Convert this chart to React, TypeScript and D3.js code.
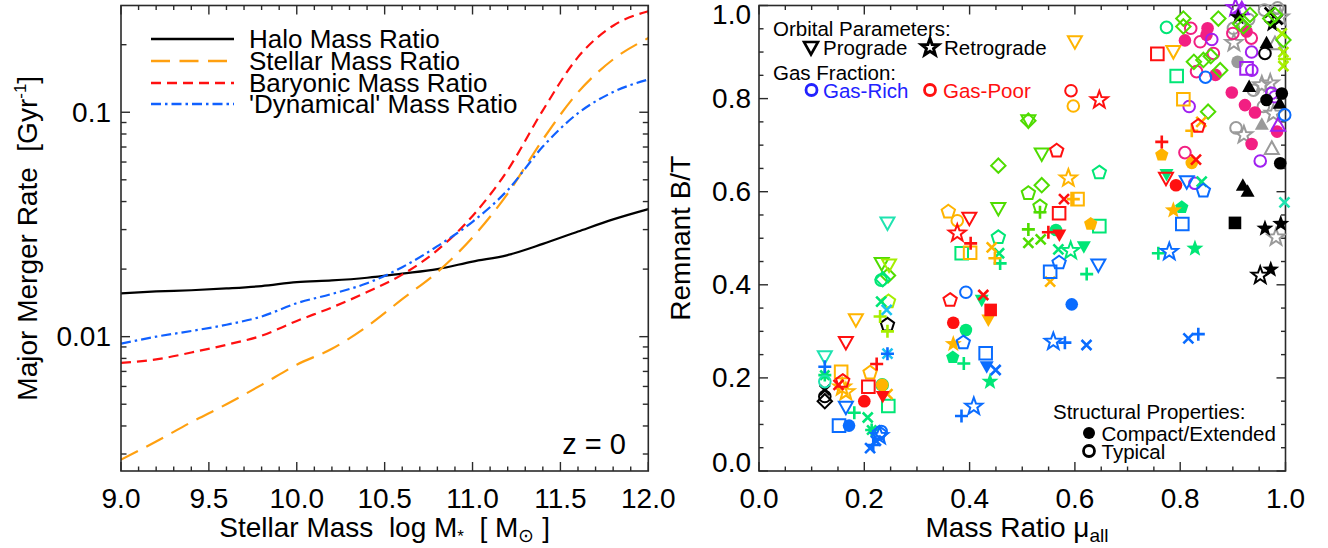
import React from 'react';
import * as d3 from 'd3';

// ---------------- Left panel data (major merger rate vs stellar mass) ----------------
const stellarMassGrid = [9.0, 9.2, 9.4, 9.6, 9.8, 10.0, 10.2, 10.4, 10.6, 10.8, 11.0, 11.2, 11.4, 11.6, 11.8, 12.0];
const haloRatioRate = [0.0156, 0.0159, 0.0161, 0.0164, 0.0168, 0.0175, 0.0178, 0.0183, 0.0191, 0.0200, 0.0216, 0.0231, 0.0259, 0.0294, 0.0333, 0.0370];
const stellarRatioRate = [0.00283, 0.00341, 0.00416, 0.0050, 0.0061, 0.0075, 0.00883, 0.0111, 0.0147, 0.0194, 0.0277, 0.0434, 0.0756, 0.1227, 0.172, 0.214];
const baryonicRatioRate = [0.00764, 0.00792, 0.0085, 0.0092, 0.0101, 0.01175, 0.0135, 0.0158, 0.0189, 0.0243, 0.0345, 0.0552, 0.102, 0.176, 0.243, 0.282];
const dynamicalRatioRate = [0.0093, 0.0100, 0.0106, 0.0113, 0.0123, 0.0141, 0.0155, 0.0173, 0.0204, 0.0253, 0.0325, 0.0450, 0.0703, 0.0990, 0.123, 0.140];
const curveNames = ['Halo Mass Ratio', 'Stellar Mass Ratio', 'Baryonic Mass Ratio', "'Dynamical' Mass Ratio"];
const leftXTicks = [9.0, 9.5, 10.0, 10.5, 11.0, 11.5, 12.0];
const leftYTickLabels = [0.01, 0.1];

// ---------------- Right panel data (remnant B/T vs mass ratio) ----------------
// [mass ratio mu_all, remnant B/T, marker]; lower-case = open, upper-case = filled
type Pt = [number, number, string];
const blackPts: Pt[] = [
  [0.244, 0.314, 'pe'], [0.125, 0.174, 'x'], [0.125, 0.160, 'ci'], [0.125, 0.150, 'di'],
  [0.904, 0.533, 'SQ'], [0.919, 0.614, 'TU'], [0.928, 0.601, 'TU'], [0.961, 0.521, 'ST'], [0.991, 0.531, 'ST'],
  [0.952, 0.420, 'st'], [0.972, 0.433, 'ST'], [0.990, 0.661, 'CI'], [0.931, 0.826, 'TU'], [0.964, 0.797, 'CI'],
  [0.993, 0.811, 'CI'], [0.989, 0.790, 'TU'], [0.964, 0.920, 'TU'], [0.961, 0.897, 'ci'], [0.910, 0.975, 'ST'],
  [0.970, 0.985, 'x'], [0.975, 0.960, 'ST'], [0.985, 0.970, 'x'],
];
const grayPts: Pt[] = [
  [0.982, 0.502, 'st'], [0.974, 0.693, 'tu'], [0.906, 0.737, 'ci'], [0.921, 0.722, 'st'], [0.955, 0.745, 'TU'],
  [0.958, 0.783, 'ci'], [0.955, 0.829, 'st'], [0.939, 0.818, 'ci'], [0.971, 0.833, 'st'], [0.909, 0.879, 'CI'],
  [0.902, 0.920, 'st'], [0.980, 0.918, 'tu'], [0.901, 0.951, 'ci'], [0.960, 0.990, 'ci'], [0.985, 0.995, 'ci'],
  [0.990, 0.975, 'st'], [0.930, 0.970, 'ci'], [0.977, 0.768, 'st'],
];
const redPts: Pt[] = [
  [0.165, 0.276, 'td'], [0.2235, 0.230, 'pl'], [0.159, 0.193, 'pe'], [0.151, 0.185, 'x'], [0.2077, 0.181, 'sq'],
  [0.200, 0.150, 'CI'], [0.235, 0.160, 'TD'], [0.363, 0.367, 'pe'], [0.426, 0.378, 'x'], [0.440, 0.346, 'SQ'],
  [0.369, 0.3186, 'CI'], [0.5926, 0.817, 'ci'], [0.6464, 0.797, 'st'], [0.5654, 0.688, 'pe'], [0.5793, 0.584, 'x'],
  [0.570, 0.5536, 'sq'], [0.3995, 0.543, 'td'], [0.3766, 0.5106, 'st'], [0.402, 0.489, 'pl'], [0.5496, 0.513, 'pl'],
  [0.5705, 0.507, 'TD'], [0.7566, 0.896, 'sq'], [0.8345, 0.741, 'pe'], [0.765, 0.707, 'pl'], [0.830, 0.669, 'x'],
  [0.773, 0.629, 'td'], [0.792, 0.614, 'CI'],
];
const orangePts: Pt[] = [
  [0.184, 0.325, 'td'], [0.211, 0.211, 'pe'], [0.156, 0.213, 'sq'], [0.165, 0.170, 'st'], [0.158, 0.180, 'st'],
  [0.234, 0.185, 'CI'], [0.244, 0.165, 'x'], [0.401, 0.469, 'sq'], [0.442, 0.4805, 'x'], [0.448, 0.457, 'pl'],
  [0.553, 0.4067, 'x'], [0.4356, 0.3243, 'TD'], [0.369, 0.273, 'ST'], [0.600, 0.922, 'td'], [0.597, 0.784, 'ci'],
  [0.5876, 0.629, 'st'], [0.605, 0.584, 'sq'], [0.597, 0.584, 'pl'], [0.3596, 0.557, 'pe'], [0.3766, 0.5377, 'ci'],
  [0.630, 0.5306, 'PE'], [0.787, 0.901, 'td'], [0.806, 0.7985, 'sq'], [0.822, 0.731, 'pl'], [0.840, 0.750, 'x'],
  [0.765, 0.679, 'PE'], [0.822, 0.662, 'CI'], [0.787, 0.560, 'ST'],
];
const limePts: Pt[] = [
  [0.245, 0.420, 'di'], [0.233, 0.446, 'td'], [0.5116, 0.7526, 'di'], [0.5116, 0.7526, 'td'], [0.537, 0.681, 'td'],
  [0.4546, 0.656, 'di'], [0.5116, 0.5966, 'pe'], [0.537, 0.614, 'di'], [0.4546, 0.564, 'td'], [0.5337, 0.568, 'pe'],
  [0.5337, 0.556, 'pl'], [0.5116, 0.519, 'pl'], [0.5116, 0.490, 'x'], [0.535, 0.4977, 'x'],
  [0.806, 0.972, 'di'], [0.806, 0.955, 'di'], [0.826, 0.879, 'di'], [0.844, 0.883, 'di'], [0.858, 0.891, 'di'],
  [0.876, 0.861, 'di'], [0.8725, 0.972, 'di'], [0.9136, 0.961, 'di'], [0.9326, 0.980, 'di'], [0.971, 0.972, 'di'],
  [0.996, 0.926, 'di'], [0.853, 0.772, 'di'], [0.980, 0.980, 'di'], [0.920, 0.955, 'di'],
];
const yellowGreenPts: Pt[] = [
  [0.247, 0.4425, 'td'], [0.246, 0.364, 'pe'], [0.230, 0.332, 'pl'], [0.244, 0.300, 'pl'],
  [0.996, 0.900, 'x'], [0.996, 0.870, 'x'], [0.993, 0.940, 'x'], [0.998, 0.885, 'pl'],
];
const greenPts: Pt[] = [
  [0.232, 0.410, 'ci'], [0.235, 0.412, 'di'], [0.232, 0.364, 'x'], [0.125, 0.206, 'as'], [0.181, 0.125, 'pl'],
  [0.234, 0.185, 'ci'], [0.2456, 0.1396, 'sq'], [0.2065, 0.115, 'x'], [0.214, 0.088, 'as'], [0.385, 0.4677, 'sq'],
  [0.456, 0.4677, 'x'], [0.458, 0.446, 'pl'], [0.6224, 0.423, 'pl'], [0.423, 0.367, 'TD'], [0.393, 0.303, 'CI'],
  [0.368, 0.244, 'PE'], [0.389, 0.231, 'pl'], [0.4387, 0.192, 'ST'], [0.6464, 0.641, 'pe'], [0.4546, 0.502, 'pe'],
  [0.564, 0.5177, 'CI'], [0.6464, 0.526, 'sq'], [0.5686, 0.476, 'x'], [0.592, 0.473, 'st'], [0.617, 0.482, 'TD'],
  [0.774, 0.953, 'ci'], [0.7933, 0.8486, 'sq'], [0.774, 0.637, 'TD'], [0.8408, 0.6215, 'x'], [0.803, 0.5665, 'PE'],
  [0.7585, 0.4677, 'pl'], [0.828, 0.478, 'ST'],
];
const tealPts: Pt[] = [
  [0.244, 0.533, 'td'], [0.125, 0.2455, 'td'], [0.125, 0.192, 'ci'], [0.998, 0.577, 'x'],
];
const cyanPts: Pt[] = [
  [0.2425, 0.346, 'x'], [0.244, 0.252, 'x'],
];
const bluePts: Pt[] = [
  [0.244, 0.252, 'pl'], [0.125, 0.224, 'pl'], [0.165, 0.137, 'td'], [0.152, 0.0975, 'sq'], [0.171, 0.0975, 'CI'],
  [0.2285, 0.081, 'pe'], [0.229, 0.0755, 'st'], [0.232, 0.085, 'ci'], [0.217, 0.056, 'pl'], [0.211, 0.049, 'x'],
  [0.222, 0.065, 'x'], [0.553, 0.428, 'sq'], [0.570, 0.4475, 'pe'], [0.6445, 0.4425, 'td'], [0.594, 0.358, 'CI'],
  [0.559, 0.278, 'st'], [0.581, 0.2757, 'pl'], [0.622, 0.2707, 'x'], [0.393, 0.384, 'ci'], [0.388, 0.2757, 'pe'],
  [0.4305, 0.253, 'sq'], [0.4325, 0.224, 'TD'], [0.4495, 0.217, 'x'], [0.408, 0.1386, 'st'], [0.3846, 0.118, 'pl'],
  [0.8124, 0.6215, 'td'], [0.844, 0.602, 'pe'], [0.804, 0.5306, 'sq'], [0.7793, 0.471, 'st'], [0.8155, 0.285, 'x'],
  [0.8344, 0.294, 'pl'], [0.848, 0.846, 'ci'], [0.9985, 0.765, 'ci'],
];
const purplePts: Pt[] = [
  [0.817, 0.783, 'ci'], [0.828, 0.618, 'ci'], [0.860, 0.927, 'ci'], [0.926, 0.865, 'sq'], [0.936, 0.861, 'ci'],
  [0.9356, 0.900, 'ci'], [0.974, 0.8115, 'ci'], [0.980, 0.804, 'ci'], [0.986, 0.743, 'tu'], [0.952, 0.666, 'ci'],
  [0.905, 0.995, 'st'], [0.917, 0.993, 'tu'],
];
const pinkPts: Pt[] = [
  [0.809, 0.684, 'ci'], [0.9356, 0.7025, 'CI'], [0.942, 0.770, 'CI'], [0.923, 0.786, 'CI'], [0.898, 0.813, 'CI'],
  [0.984, 0.729, 'CI'], [0.809, 0.925, 'CI'], [0.820, 0.951, 'ci'], [0.838, 0.922, 'ci'], [0.831, 0.858, 'ci'],
  [0.863, 0.897, 'ci'], [0.852, 0.951, 'CI'], [0.850, 0.937, 'CI'], [0.867, 0.851, 'CI'], [0.926, 0.944, 'CI'],
  [0.935, 0.930, 'ci'], [0.900, 0.940, 'ci'],
];
const rightTicks = [0, 0.2, 0.4, 0.6, 0.8, 1.0];

// ---------------- styling ----------------
const FONT = "'Liberation Sans', Arial, Helvetica, sans-serif";
const markerGroups: { color: string; pts: Pt[] }[] = [
  { color: '#9a9a9a', pts: grayPts },
  { color: '#f21f82', pts: pinkPts },
  { color: '#a020f0', pts: purplePts },
  { color: '#000000', pts: blackPts },
  { color: '#4fdc00', pts: limePts },
  { color: '#a6ee00', pts: yellowGreenPts },
  { color: '#00e676', pts: greenPts },
  { color: '#1fe3b0', pts: tealPts },
  { color: '#19c3f2', pts: cyanPts },
  { color: '#ffb400', pts: orangePts },
  { color: '#ff1010', pts: redPts },
  { color: '#0a6cff', pts: bluePts },
];
const curveStyles = [
  { color: '#000000', dash: 'none', width: 2.2 },
  { color: '#ffa010', dash: '19 9.5', width: 2.2 },
  { color: '#ff1010', dash: '10 6', width: 2.2 },
  { color: '#1060ff', dash: '10 4 2.5 4', width: 2.2 },
];

function polyPath(pts: [number, number][]): string {
  return 'M' + pts.map((p) => `${p[0].toFixed(2)},${p[1].toFixed(2)}`).join('L') + 'Z';
}
function markerPath(shape: string): string {
  const s = shape.toLowerCase();
  if (s === 'ci') {
    const r = shape === 'CI' ? 6.3 : 5.8;
    return `M${r},0A${r},${r} 0 1,1 ${-r},0A${r},${r} 0 1,1 ${r},0Z`;
  }
  if (s === 'sq') { const h = 6.3; return polyPath([[-h, -h], [h, -h], [h, h], [-h, h]]); }
  if (s === 'td') return polyPath([[-7, -5.5], [7, -5.5], [0, 7]]);
  if (s === 'tu') return polyPath([[-7, 5.5], [7, 5.5], [0, -7]]);
  if (s === 'di') return polyPath([[0, -7.2], [7.2, 0], [0, 7.2], [-7.2, 0]]);
  if (s === 'pe') {
    const r = 7;
    return polyPath(d3.range(5).map((i) => { const a = -Math.PI / 2 + (i * 2 * Math.PI) / 5; return [r * Math.cos(a), r * Math.sin(a)] as [number, number]; }));
  }
  if (s === 'st') {
    const R = 9, r = 3.7;
    return polyPath(d3.range(10).map((i) => { const a = -Math.PI / 2 + (i * Math.PI) / 5; const rr = i % 2 ? r : R; return [rr * Math.cos(a), rr * Math.sin(a)] as [number, number]; }));
  }
  if (s === 'pl') { const a = 6.5; return `M${-a},0L${a},0M0,${-a}L0,${a}`; }
  if (s === 'x') { const a = 5; return `M${-a},${-a}L${a},${a}M${-a},${a}L${a},${-a}`; }
  if (s === 'as') { const a = 6.5, b = 4.6; return `M${-a},0L${a},0M0,${-a}L0,${a}M${-b},${-b}L${b},${b}M${-b},${b}L${b},${-b}`; }
  return '';
}
function isFilled(shape: string) { return /^[A-Z]+$/.test(shape); }
function isLine(shape: string) { return shape === 'pl' || shape === 'x' || shape === 'as'; }

// ---------------- layout ----------------
const L = { x0: 121, x1: 648.3, y0: 5.5, y1: 471 };
const R = { x0: 759, x1: 1285.5, y0: 5.5, y1: 471 };
const NB = '\u00a0';

export default function App() {
  const xL = d3.scaleLinear().domain([9, 12]).range([L.x0, L.x1]);
  const yL = d3.scaleLog().domain([0.00252, 0.299]).range([L.y1, L.y0]);
  const xR = d3.scaleLinear().domain([0, 1]).range([R.x0, R.x1]);
  const yR = d3.scaleLinear().domain([0, 1]).range([R.y1, R.y0]);

  const series = [haloRatioRate, stellarRatioRate, baryonicRatioRate, dynamicalRatioRate];
  const line = d3.line<number>().x((_, i) => xL(stellarMassGrid[i])).y((d) => yL(d)).curve(d3.curveMonotoneX);

  const axisColor = '#2a2a2a';
  const ticks: JSX.Element[] = [];
  // left panel x ticks
  d3.range(9, 12.001, 0.1).forEach((v, i) => {
    const major = Math.abs(v * 2 - Math.round(v * 2)) < 1e-6;
    const len = major ? 9 : 4.5;
    const x = xL(v);
    ticks.push(<line key={`lxb${i}`} x1={x} x2={x} y1={L.y1} y2={L.y1 - len} />);
    ticks.push(<line key={`lxt${i}`} x1={x} x2={x} y1={L.y0} y2={L.y0 + len} />);
  });
  // left panel y ticks (log)
  const logTicks: number[] = [];
  [0.001, 0.01, 0.1].forEach((dec) => d3.range(1, 10).forEach((m) => { const v = dec * m; if (v >= 0.00252 && v <= 0.299) logTicks.push(v); }));
  logTicks.forEach((v, i) => {
    const major = leftYTickLabels.some((t) => Math.abs(t - v) < 1e-9);
    const len = major ? 9 : 5.5;
    const y = yL(v);
    ticks.push(<line key={`lyl${i}`} x1={L.x0} x2={L.x0 + len} y1={y} y2={y} />);
    ticks.push(<line key={`lyr${i}`} x1={L.x1} x2={L.x1 - len} y1={y} y2={y} />);
  });
  // right panel ticks
  d3.range(0, 1.0001, 0.05).forEach((v, i) => {
    const major = Math.abs(v * 5 - Math.round(v * 5)) < 1e-6;
    const len = major ? 9 : 4.5;
    const x = xR(v), y = yR(v);
    ticks.push(<line key={`rxb${i}`} x1={x} x2={x} y1={R.y1} y2={R.y1 - len} />);
    ticks.push(<line key={`rxt${i}`} x1={x} x2={x} y1={R.y0} y2={R.y0 + len} />);
    ticks.push(<line key={`ryl${i}`} x1={R.x0} x2={R.x0 + len} y1={y} y2={y} />);
    ticks.push(<line key={`ryr${i}`} x1={R.x1} x2={R.x1 - len} y1={y} y2={y} />);
  });

  const tickFont = 28;

  return (
    <div style={{ position: 'absolute', left: 0, top: 0, width: 1328, height: 548, background: '#fff' }}>
      <svg width={1328} height={548} viewBox="0 0 1328 548" style={{ display: 'block', fontFamily: FONT }}>
        <defs>
          <clipPath id="clipL"><rect x={L.x0} y={L.y0} width={L.x1 - L.x0} height={L.y1 - L.y0} /></clipPath>
        </defs>
        <rect x={0} y={0} width={1328} height={548} fill="#fff" />

        {/* ---------- left panel ---------- */}
        <g clipPath="url(#clipL)">
          {series.map((s, i) => (
            <path key={`c${i}`} d={line(s) || ''} fill="none" stroke={curveStyles[i].color}
              strokeWidth={curveStyles[i].width} strokeDasharray={curveStyles[i].dash} strokeLinejoin="round" />
          ))}
        </g>
        {curveNames.map((name, i) => {
          const y = [39, 61, 83, 104][i];
          return (
            <g key={`lg${i}`}>
              <line x1={151} x2={234} y1={y} y2={y} stroke={curveStyles[i].color} strokeWidth={2.4}
                strokeDasharray={curveStyles[i].dash} />
              <text x={249} y={y} dominantBaseline="central" fontSize={26} fill="#000">{name}</text>
            </g>
          );
        })}
        <text x={626} y={454} textAnchor="end" fontSize={29} fill="#000">{`z${NB}=${NB}0`}</text>

        <g stroke={axisColor} strokeWidth={1.4}>{ticks}</g>
        <rect x={L.x0} y={L.y0} width={L.x1 - L.x0} height={L.y1 - L.y0} fill="none" stroke={axisColor} strokeWidth={1.6} />
        <rect x={R.x0} y={R.y0} width={R.x1 - R.x0} height={R.y1 - R.y0} fill="none" stroke={axisColor} strokeWidth={1.6} />

        {leftXTicks.map((v) => (
          <text key={`lxl${v}`} x={xL(v)} y={508} textAnchor="middle" fontSize={tickFont}>{v.toFixed(1)}</text>
        ))}
        {leftYTickLabels.map((v) => (
          <text key={`lyl${v}`} x={L.x0 - 10} y={yL(v)} textAnchor="end" dominantBaseline="central" fontSize={tickFont}>{String(v)}</text>
        ))}
        <text x={(L.x0 + L.x1) / 2} y={537} textAnchor="middle" fontSize={28}>
          <tspan>{`Stellar Mass${NB}${NB}log M`}</tspan>
          <tspan fontSize={17} dy={5}>*</tspan>
          <tspan dy={-5}>{`${NB}${NB}[${NB}M`}</tspan>
          <tspan fontSize={19} dy={5}>⊙</tspan>
          <tspan dy={-5}>{`${NB}]`}</tspan>
        </text>
        <text transform={`translate(37, ${(L.y0 + L.y1) / 2}) rotate(-90)`} textAnchor="middle" fontSize={28}>
          <tspan>{`Major Merger Rate${NB}${NB}[Gyr`}</tspan>
          <tspan fontSize={17} dy={-11}>-1</tspan>
          <tspan dy={11}>]</tspan>
        </text>

        {/* ---------- right panel ---------- */}
        {markerGroups.map((g, gi) => (
          <g key={`mg${gi}`}>
            {g.pts.map((p, pi) => {
              const filled = isFilled(p[2]);
              const ln = isLine(p[2]);
              return (
                <path key={`m${gi}-${pi}`} d={markerPath(p[2])} transform={`translate(${xR(p[0])},${yR(p[1])})`}
                  fill={filled ? g.color : 'none'} stroke={filled ? 'none' : g.color}
                  strokeWidth={ln ? 2.6 : 2} strokeLinejoin="miter" />
              );
            })}
          </g>
        ))}

        {rightTicks.map((v) => {
          const y = Math.min(Math.max(yR(v), R.y0 + 9), R.y1 - 9);
          return (
            <text key={`ryl${v}`} x={R.x0 - 8} y={y} textAnchor="end" dominantBaseline="central" fontSize={tickFont}>{v.toFixed(1)}</text>
          );
        })}
        {rightTicks.map((v) => (
          <text key={`rxl${v}`} x={xR(v)} y={508} textAnchor="middle" fontSize={tickFont}>{v.toFixed(1)}</text>
        ))}
        <text x={1017} y={537} textAnchor="middle" fontSize={28}>
          <tspan>{`Mass Ratio μ`}</tspan>
          <tspan fontSize={19} dy={5}>all</tspan>
        </text>
        <text transform={`translate(690, ${(R.y0 + R.y1) / 2}) rotate(-90)`} textAnchor="middle" fontSize={28}>Remnant B/T</text>

        {/* right legend */}
        <g fontSize={20.5} fill="#000">
          <text x={773} y={28} dominantBaseline="central">Orbital Parameters:</text>
          <path d={markerPath('td')} transform="translate(811,47.5)" fill="none" stroke="#000" strokeWidth={2.6} />
          <text x={823} y={47.5} dominantBaseline="central">Prograde</text>
          <path d={markerPath('st')} transform="translate(930,47.5)" fill="none" stroke="#000" strokeWidth={3} />
          <text x={944} y={47.5} dominantBaseline="central">Retrograde</text>
          <text x={773} y={72} dominantBaseline="central">Gas Fraction:</text>
          <circle cx={811.5} cy={90} r={5.5} fill="none" stroke="#2222ff" strokeWidth={2.8} />
          <text x={823} y={90} dominantBaseline="central" fill="#2222ff">Gas-Rich</text>
          <circle cx={930} cy={90} r={5.5} fill="none" stroke="#ff1010" strokeWidth={2.8} />
          <text x={943} y={90} dominantBaseline="central" fill="#ff1010">Gas-Poor</text>

          <text x={1053} y={411.5} dominantBaseline="central">Structural Properties:</text>
          <circle cx={1089} cy={433} r={6} fill="#000" />
          <text x={1101.5} y={433} dominantBaseline="central">Compact/Extended</text>
          <circle cx={1089} cy={451} r={5.5} fill="none" stroke="#000" strokeWidth={2.8} />
          <text x={1101.5} y={451} dominantBaseline="central">Typical</text>
        </g>
      </svg>
    </div>
  );
}
